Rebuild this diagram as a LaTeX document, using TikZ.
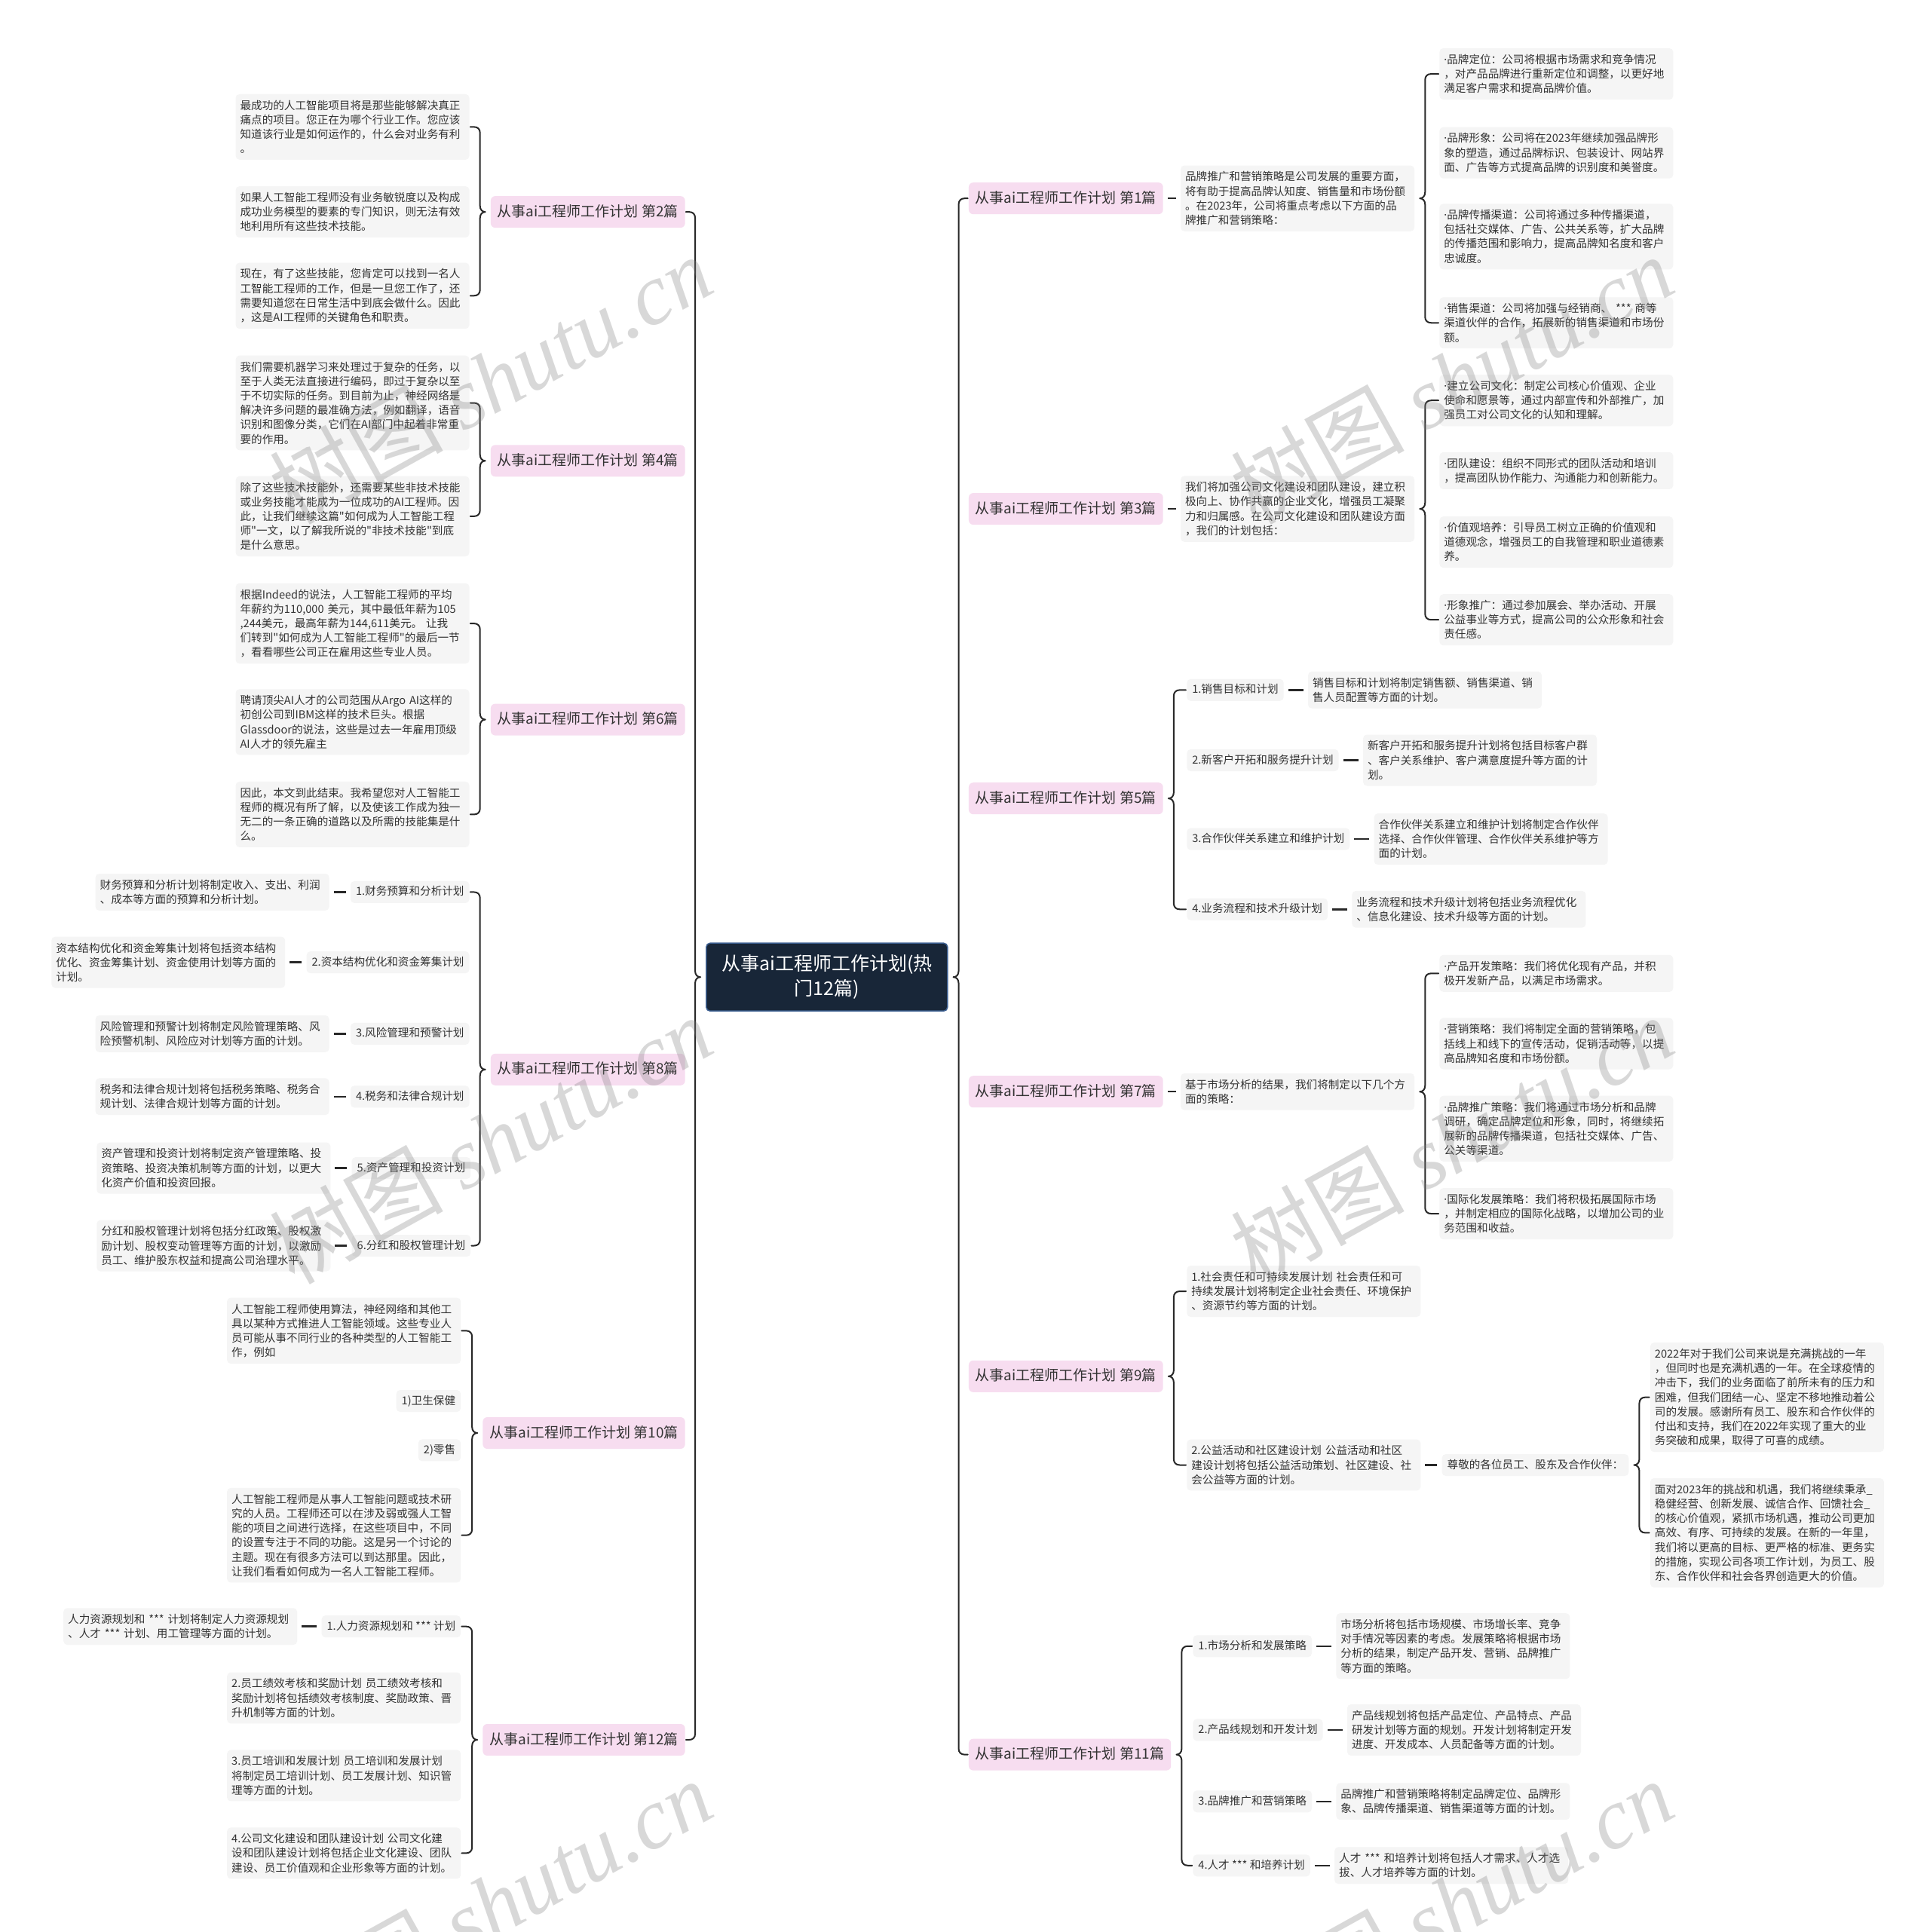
\documentclass[tikz,border=0pt]{standalone}
\usepackage{fontspec}
\setmainfont{Noto Sans CJK SC}[Ligatures=TeXOff]
\newfontfamily\wmlatin{Liberation Serif}
\newfontfamily\latinfont{Noto Sans}[Ligatures=TeXOff]
\newcommand{\md}{{\latinfont ·}}
\usetikzlibrary{calc,positioning,backgrounds}
\definecolor{pinkbg}{RGB}{247,221,240}
\definecolor{leafbg}{RGB}{245,245,245}
\definecolor{txt}{RGB}{51,51,51}
\definecolor{navy}{RGB}{24,38,56}
\definecolor{navyline}{RGB}{60,95,145}
\definecolor{linec}{RGB}{40,40,40}
\newcommand{\fsleaf}{\fontsize{14.6pt}{19.2pt}\selectfont}
\newcommand{\fsbr}{\fontsize{19pt}{24pt}\selectfont}
\newcommand{\fsroot}{\fontsize{25pt}{33pt}\selectfont}
\newcommand{\fswm}{\fontsize{115pt}{120pt}\selectfont}
\newcommand{\BrR}[3]{%
 \draw[conn] let \p1=(#2.west), \p2=(#3.west), \p3=(#1.east) in
  (\x1-1pt,\y1) -- (\x3+22pt,\y1) .. controls (\x3+17pt,\y1) and (\x3+14pt,\y1-3pt) .. (\x3+14pt,\y1-8pt)
  -- (\x3+14pt,\y3+8pt) .. controls (\x3+14pt,\y3+3pt) and (\x3+11pt,\y3) .. (\x3+7pt,\y3)
  .. controls (\x3+11pt,\y3) and (\x3+14pt,\y3-3pt) .. (\x3+14pt,\y3-8pt)
  -- (\x3+14pt,\y2+8pt) .. controls (\x3+14pt,\y2+3pt) and (\x3+17pt,\y2) .. (\x3+22pt,\y2) -- (\x2-1pt,\y2);}
\newcommand{\BrL}[3]{%
 \draw[conn] let \p1=(#2.east), \p2=(#3.east), \p3=(#1.west) in
  (\x1+1pt,\y1) -- (\x3-22pt,\y1) .. controls (\x3-17pt,\y1) and (\x3-14pt,\y1-3pt) .. (\x3-14pt,\y1-8pt)
  -- (\x3-14pt,\y3+8pt) .. controls (\x3-14pt,\y3+3pt) and (\x3-11pt,\y3) .. (\x3-7pt,\y3)
  .. controls (\x3-11pt,\y3) and (\x3-14pt,\y3-3pt) .. (\x3-14pt,\y3-8pt)
  -- (\x3-14pt,\y2+8pt) .. controls (\x3-14pt,\y2+3pt) and (\x3-17pt,\y2) .. (\x3-22pt,\y2) -- (\x2+1pt,\y2);}
\begin{document}
\begin{tikzpicture}[x=1.6347pt,y=-1.6347pt,
  conn/.style={draw=linec, line width=2pt, line cap=round, line join=round},
  dashc/.style={draw=linec, line width=2.4pt, shorten <=6pt, shorten >=6pt},
  leaf/.style={fill=leafbg, rounded corners=5pt, text=txt, font=\fsleaf, align=left, text width=298pt, inner xsep=6pt, inner ysep=8pt},
  mid/.style={fill=leafbg, rounded corners=5pt, text=txt, font=\fsleaf, inner xsep=7pt, inner ysep=7pt, text height=12pt, text depth=3pt},
  branch/.style={fill=pinkbg, rounded corners=6pt, text=txt, font=\fsbr, inner xsep=9pt, inner ysep=11pt, text height=16pt, text depth=4pt},
  rootbox/.style={fill=navy, draw=navyline, line width=1.5pt, rounded corners=5pt, text=white, font=\fsroot, align=center, text width=296pt, minimum width=320pt, minimum height=90pt},
  wm/.style={text=gray, text opacity=0.3, font=\fswm, inner sep=0pt}
]
\useasboundingbox (0,0) rectangle (1566,1568);
\begin{scope}[on background layer]
\fill[white] (0,0) rectangle (1566,1568);
\end{scope}

\node[rootbox] (root) at (671,793) {从事ai工程师工作计划(热\\门12篇)};

% right branches
\node[branch,anchor=west] (b1) at (786,161) {从事ai工程师工作计划 第1篇};
\node[branch,anchor=west] (b3) at (786,413) {从事ai工程师工作计划 第3篇};
\node[branch,anchor=west] (b5) at (786,648) {从事ai工程师工作计划 第5篇};
\node[branch,anchor=west] (b7) at (786,886) {从事ai工程师工作计划 第7篇};
\node[branch,anchor=west] (b9) at (786,1117) {从事ai工程师工作计划 第9篇};
\node[branch,anchor=west] (b11) at (786,1424) {从事ai工程师工作计划 第11篇};
% left branches
\node[branch,anchor=east] (b2) at (556,172) {从事ai工程师工作计划 第2篇};
\node[branch,anchor=east] (b4) at (556,374) {从事ai工程师工作计划 第4篇};
\node[branch,anchor=east] (b6) at (556,584) {从事ai工程师工作计划 第6篇};
\node[branch,anchor=east] (b8) at (556,868) {从事ai工程师工作计划 第8篇};
\node[branch,anchor=east] (b10) at (556,1163) {从事ai工程师工作计划 第10篇};
\node[branch,anchor=east] (b12) at (556,1412) {从事ai工程师工作计划 第12篇};

% ---- 第1篇
\node[leaf,right=23pt of b1] (p1) {品牌推广和营销策略是公司发展的重要方面，\\将有助于提高品牌认知度、销售量和市场份额\\。在2023年，公司将重点考虑以下方面的品\\牌推广和营销策略：};
\node[leaf,anchor=west] (p1a) at (1168,60) {\md 品牌定位：公司将根据市场需求和竞争情况\\，对产品品牌进行重新定位和调整，以更好地\\满足客户需求和提高品牌价值。};
\node[leaf,anchor=west] (p1b) at (1168,124) {\md 品牌形象：公司将在2023年继续加强品牌形\\象的塑造，通过品牌标识、包装设计、网站界\\面、广告等方式提高品牌的识别度和美誉度。};
\node[leaf,anchor=west] (p1c) at (1168,192) {\md 品牌传播渠道：公司将通过多种传播渠道，\\包括社交媒体、广告、公共关系等，扩大品牌\\的传播范围和影响力，提高品牌知名度和客户\\忠诚度。};
\node[leaf,anchor=west] (p1d) at (1168,262) {\md 销售渠道：公司将加强与经销商、 *** 商等\\渠道伙伴的合作，拓展新的销售渠道和市场份\\额。};

% ---- 第3篇
\node[leaf,right=23pt of b3] (p3) {我们将加强公司文化建设和团队建设，建立积\\极向上、协作共赢的企业文化，增强员工凝聚\\力和归属感。在公司文化建设和团队建设方面\\，我们的计划包括：};
\node[leaf,anchor=west] (p3a) at (1168,325) {\md 建立公司文化：制定公司核心价值观、企业\\使命和愿景等，通过内部宣传和外部推广，加\\强员工对公司文化的认知和理解。};
\node[leaf,anchor=west] (p3b) at (1168,382) {\md 团队建设：组织不同形式的团队活动和培训\\，提高团队协作能力、沟通能力和创新能力。};
\node[leaf,anchor=west] (p3c) at (1168,440) {\md 价值观培养：引导员工树立正确的价值观和\\道德观念，增强员工的自我管理和职业道德素\\养。};
\node[leaf,anchor=west] (p3d) at (1168,503) {\md 形象推广：通过参加展会、举办活动、开展\\公益事业等方式，提高公司的公众形象和社会\\责任感。};

% ---- 第5篇
\node[mid,anchor=west] (p5a) at (963,560) {1.销售目标和计划};
\node[mid,anchor=west] (p5b) at (963,617) {2.新客户开拓和服务提升计划};
\node[mid,anchor=west] (p5c) at (963,681) {3.合作伙伴关系建立和维护计划};
\node[mid,anchor=west] (p5d) at (963,738) {4.业务流程和技术升级计划};
\node[leaf,right=32pt of p5a] (q5a) {销售目标和计划将制定销售额、销售渠道、销\\售人员配置等方面的计划。};
\node[leaf,right=32pt of p5b] (q5b) {新客户开拓和服务提升计划将包括目标客户群\\、客户关系维护、客户满意度提升等方面的计\\划。};
\node[leaf,right=32pt of p5c] (q5c) {合作伙伴关系建立和维护计划将制定合作伙伴\\选择、合作伙伴管理、合作伙伴关系维护等方\\面的计划。};
\node[leaf,right=32pt of p5d] (q5d) {业务流程和技术升级计划将包括业务流程优化\\、信息化建设、技术升级等方面的计划。};

% ---- 第7篇
\node[leaf,right=23pt of b7] (p7) {基于市场分析的结果，我们将制定以下几个方\\面的策略：};
\node[leaf,anchor=west] (p7a) at (1168,790) {\md 产品开发策略：我们将优化现有产品，并积\\极开发新产品，以满足市场需求。};
\node[leaf,anchor=west] (p7b) at (1168,847) {\md 营销策略：我们将制定全面的营销策略，包\\括线上和线下的宣传活动，促销活动等，以提\\高品牌知名度和市场份额。};
\node[leaf,anchor=west] (p7c) at (1168,916) {\md 品牌推广策略：我们将通过市场分析和品牌\\调研，确定品牌定位和形象，同时，将继续拓\\展新的品牌传播渠道，包括社交媒体、广告、\\公关等渠道。};
\node[leaf,anchor=west] (p7d) at (1168,985) {\md 国际化发展策略：我们将积极拓展国际市场\\，并制定相应的国际化战略，以增加公司的业\\务范围和收益。};

% ---- 第9篇
\node[leaf,anchor=west] (p9a) at (963,1048) {1.社会责任和可持续发展计划 社会责任和可\\持续发展计划将制定企业社会责任、环境保护\\、资源节约等方面的计划。};
\node[leaf,anchor=west] (p9b) at (963,1189) {2.公益活动和社区建设计划 公益活动和社区\\建设计划将包括公益活动策划、社区建设、社\\会公益等方面的计划。};
\node[mid,right=28pt of p9b] (m9) {尊敬的各位员工、股东及合作伙伴：};
\node[leaf,anchor=west] (q9a) at (1339,1134) {2022年对于我们公司来说是充满挑战的一年\\，但同时也是充满机遇的一年。在全球疫情的\\冲击下，我们的业务面临了前所未有的压力和\\困难，但我们团结一心、坚定不移地推动着公\\司的发展。感谢所有员工、股东和合作伙伴的\\付出和支持，我们在2022年实现了重大的业\\务突破和成果，取得了可喜的成绩。};
\node[leaf,anchor=west] (q9b) at (1339,1244) {面对2023年的挑战和机遇，我们将继续秉承\_\\稳健经营、创新发展、诚信合作、回馈社会\_\\的核心价值观，紧抓市场机遇，推动公司更加\\高效、有序、可持续的发展。在新的一年里，\\我们将以更高的目标、更严格的标准、更务实\\的措施，实现公司各项工作计划，为员工、股\\东、合作伙伴和社会各界创造更大的价值。};

% ---- 第11篇
\node[mid,anchor=west] (p11a) at (968,1336) {1.市场分析和发展策略};
\node[mid,anchor=west] (p11b) at (968,1404) {2.产品线规划和开发计划};
\node[mid,anchor=west] (p11c) at (968,1462) {3.品牌推广和营销策略};
\node[mid,anchor=west] (p11d) at (968,1514) {4.人才 *** 和培养计划};
\node[leaf,right=32pt of p11a] (q11a) {市场分析将包括市场规模、市场增长率、竞争\\对手情况等因素的考虑。发展策略将根据市场\\分析的结果，制定产品开发、营销、品牌推广\\等方面的策略。};
\node[leaf,right=32pt of p11b] (q11b) {产品线规划将包括产品定位、产品特点、产品\\研发计划等方面的规划。开发计划将制定开发\\进度、开发成本、人员配备等方面的计划。};
\node[leaf,right=32pt of p11c] (q11c) {品牌推广和营销策略将制定品牌定位、品牌形\\象、品牌传播渠道、销售渠道等方面的计划。};
\node[leaf,right=32pt of p11d] (q11d) {人才 *** 和培养计划将包括人才需求、人才选\\拔、人才培养等方面的计划。};

% ---- 第2篇
\node[leaf,anchor=east] (p2a) at (381,103) {最成功的人工智能项目将是那些能够解决真正\\痛点的项目。您正在为哪个行业工作。您应该\\知道该行业是如何运作的，什么会对业务有利\\。};
\node[leaf,anchor=east] (p2b) at (381,172) {如果人工智能工程师没有业务敏锐度以及构成\\成功业务模型的要素的专门知识，则无法有效\\地利用所有这些技术技能。};
\node[leaf,anchor=east] (p2c) at (381,240) {现在，有了这些技能，您肯定可以找到一名人\\工智能工程师的工作，但是一旦您工作了，还\\需要知道您在日常生活中到底会做什么。因此\\，这是AI工程师的关键角色和职责。};

% ---- 第4篇
\node[leaf,anchor=east] (p4a) at (381,327) {我们需要机器学习来处理过于复杂的任务，以\\至于人类无法直接进行编码，即过于复杂以至\\于不切实际的任务。到目前为止，神经网络是\\解决许多问题的最准确方法，例如翻译，语音\\识别和图像分类，它们在AI部门中起着非常重\\要的作用。};
\node[leaf,anchor=east] (p4b) at (381,419) {除了这些技术技能外，还需要某些非技术技能\\或业务技能才能成为一位成功的AI工程师。因\\此，让我们继续这篇"如何成为人工智能工程\\师"一文，以了解我所说的"非技术技能"到底\\是什么意思。};

% ---- 第6篇
\node[leaf,anchor=east] (p6a) at (381,506) {根据Indeed的说法，人工智能工程师的平均\\年薪约为110,000 美元，其中最低年薪为105\\,244美元，最高年薪为144,611美元。 让我\\们转到"如何成为人工智能工程师"的最后一节\\，看看哪些公司正在雇用这些专业人员。};
\node[leaf,anchor=east] (p6b) at (381,586) {聘请顶尖AI人才的公司范围从Argo AI这样的\\初创公司到IBM这样的技术巨头。根据\\Glassdoor的说法，这些是过去一年雇用顶级\\AI人才的领先雇主};
\node[leaf,anchor=east] (p6c) at (381,661) {因此，本文到此结束。我希望您对人工智能工\\程师的概况有所了解，以及使该工作成为独一\\无二的一条正确的道路以及所需的技能集是什\\么。};

% ---- 第8篇
\node[mid,anchor=east] (p8a) at (381,724) {1.财务预算和分析计划};
\node[mid,anchor=east] (p8b) at (381,781) {2.资本结构优化和资金筹集计划};
\node[mid,anchor=east] (p8c) at (381,839) {3.风险管理和预警计划};
\node[mid,anchor=east] (p8d) at (381,890) {4.税务和法律合规计划};
\node[mid,anchor=east] (p8e) at (382,948) {5.资产管理和投资计划};
\node[mid,anchor=east] (p8f) at (382,1011) {6.分红和股权管理计划};
\node[leaf,left=28pt of p8a] (q8a) {财务预算和分析计划将制定收入、支出、利润\\、成本等方面的预算和分析计划。};
\node[leaf,left=28pt of p8b] (q8b) {资本结构优化和资金筹集计划将包括资本结构\\优化、资金筹集计划、资金使用计划等方面的\\计划。};
\node[leaf,left=28pt of p8c] (q8c) {风险管理和预警计划将制定风险管理策略、风\\险预警机制、风险应对计划等方面的计划。};
\node[leaf,left=28pt of p8d] (q8d) {税务和法律合规计划将包括税务策略、税务合\\规计划、法律合规计划等方面的计划。};
\node[leaf,left=28pt of p8e] (q8e) {资产管理和投资计划将制定资产管理策略、投\\资策略、投资决策机制等方面的计划，以更大\\化资产价值和投资回报。};
\node[leaf,left=28pt of p8f] (q8f) {分红和股权管理计划将包括分红政策、股权激\\励计划、股权变动管理等方面的计划，以激励\\员工、维护股东权益和提高公司治理水平。};

% ---- 第10篇
\node[leaf,anchor=east] (p10a) at (374,1080) {人工智能工程师使用算法，神经网络和其他工\\具以某种方式推进人工智能领域。这些专业人\\员可能从事不同行业的各种类型的人工智能工\\作，例如};
\node[mid,anchor=east] (p10b) at (374,1137) {1)卫生保健};
\node[mid,anchor=east] (p10c) at (374,1177) {2)零售};
\node[leaf,anchor=east] (p10d) at (374,1246) {人工智能工程师是从事人工智能问题或技术研\\究的人员。工程师还可以在涉及弱或强人工智\\能的项目之间进行选择，在这些项目中，不同\\的设置专注于不同的功能。这是另一个讨论的\\主题。现在有很多方法可以到达那里。因此，\\让我们看看如何成为一名人工智能工程师。};

% ---- 第12篇
\node[mid,anchor=east] (p12a) at (374,1320) {1.人力资源规划和 *** 计划};
\node[leaf,left=32pt of p12a] (q12a) {人力资源规划和 *** 计划将制定人力资源规划\\、人才 *** 计划、用工管理等方面的计划。};
\node[leaf,anchor=east] (p12b) at (374,1378) {2.员工绩效考核和奖励计划 员工绩效考核和\\奖励计划将包括绩效考核制度、奖励政策、晋\\升机制等方面的计划。};
\node[leaf,anchor=east] (p12c) at (374,1441) {3.员工培训和发展计划 员工培训和发展计划\\将制定员工培训计划、员工发展计划、知识管\\理等方面的计划。};
\node[leaf,anchor=east] (p12d) at (374,1504) {4.公司文化建设和团队建设计划 公司文化建\\设和团队建设计划将包括企业文化建设、团队\\建设、员工价值观和企业形象等方面的计划。};

% ---- connectors
\begin{scope}[on background layer]
\BrR{root}{b1}{b11}
\BrL{root}{b2}{b12}
\draw[dashc] (b1.east) -- (p1.west);
\BrR{p1}{p1a}{p1d}
\draw[dashc] (b3.east) -- (p3.west);
\BrR{p3}{p3a}{p3d}
\BrR{b5}{p5a}{p5d}
\draw[dashc] (p5a.east) -- (q5a.west);
\draw[dashc] (p5b.east) -- (q5b.west);
\draw[dashc] (p5c.east) -- (q5c.west);
\draw[dashc] (p5d.east) -- (q5d.west);
\draw[dashc] (b7.east) -- (p7.west);
\BrR{p7}{p7a}{p7d}
\BrR{b9}{p9a}{p9b}
\draw[dashc] (p9b.east) -- (m9.west);
\BrR{m9}{q9a}{q9b}
\BrR{b11}{p11a}{p11d}
\draw[dashc] (p11a.east) -- (q11a.west);
\draw[dashc] (p11b.east) -- (q11b.west);
\draw[dashc] (p11c.east) -- (q11c.west);
\draw[dashc] (p11d.east) -- (q11d.west);
\BrL{b2}{p2a}{p2c}
\BrL{b4}{p4a}{p4b}
\BrL{b6}{p6a}{p6c}
\BrL{b8}{p8a}{p8f}
\draw[dashc] (p8a.west) -- (q8a.east);
\draw[dashc] (p8b.west) -- (q8b.east);
\draw[dashc] (p8c.west) -- (q8c.east);
\draw[dashc] (p8d.west) -- (q8d.east);
\draw[dashc] (p8e.west) -- (q8e.east);
\draw[dashc] (p8f.west) -- (q8f.east);
\BrL{b10}{p10a}{p10d}
\BrL{b12}{p12a}{p12d}
\draw[dashc] (p12a.west) -- (q12a.east);
\end{scope}

% ---- watermarks
\node[wm,rotate=29] (wm1) at (398,308) {树图 {\wmlatin\itshape shutu.cn}};
\node[wm,rotate=29] (wm2) at (1178,308) {树图 {\wmlatin\itshape shutu.cn}};
\node[wm,rotate=29] (wm3) at (398,925) {树图 {\wmlatin\itshape shutu.cn}};
\node[wm,rotate=29] (wm4) at (1178,925) {树图 {\wmlatin\itshape shutu.cn}};
\node[wm,rotate=29] (wm5) at (398,1545) {树图 {\wmlatin\itshape shutu.cn}};
\node[wm,rotate=29] (wm6) at (1178,1545) {树图 {\wmlatin\itshape shutu.cn}};
\end{tikzpicture}
\end{document}
